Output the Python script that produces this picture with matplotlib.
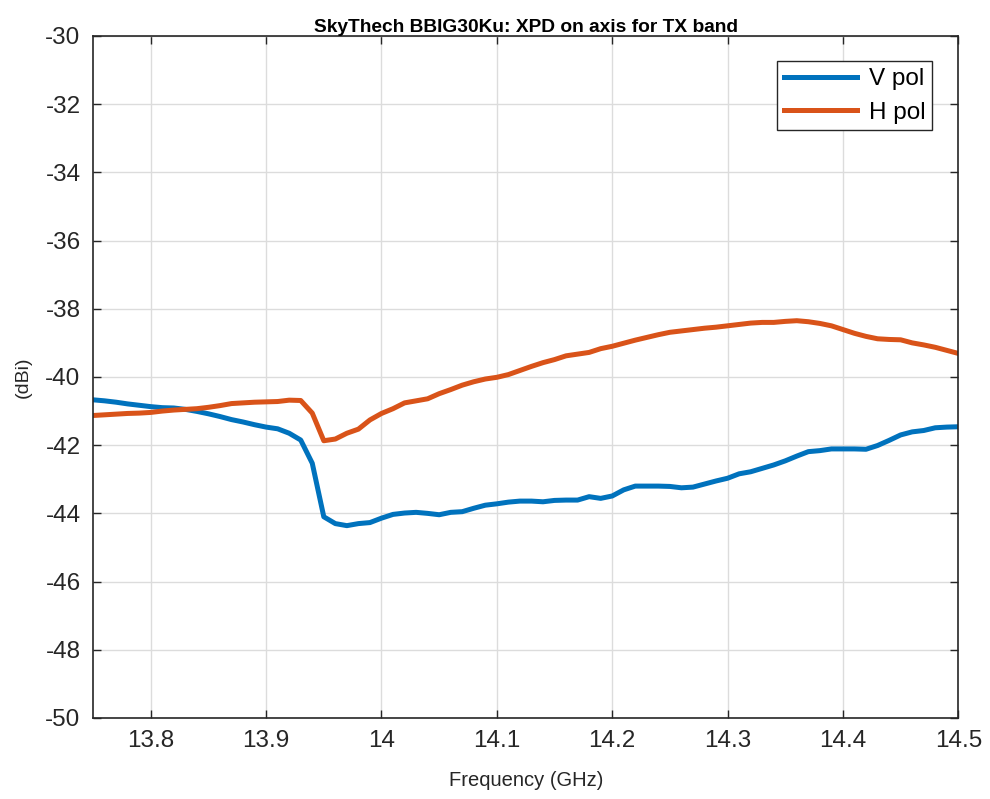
import numpy as np
import matplotlib as mpl
mpl.use("Agg")
import matplotlib.pyplot as plt

mpl.rcParams.update({"font.family": ["Liberation Sans", "DejaVu Sans"],
                     "axes.unicode_minus": False})

freq = np.round(np.arange(13.75, 14.5001, 0.01), 2)

v_pol = [-40.67, -40.70, -40.74, -40.79, -40.83, -40.87, -40.90, -40.91, -40.95, -41.01,
         -41.08, -41.16, -41.25, -41.32, -41.40, -41.47, -41.52, -41.65, -41.85, -42.53,
         -44.10, -44.30, -44.36, -44.30, -44.27, -44.14, -44.03, -43.99, -43.97, -44.00,
         -44.04, -43.97, -43.95, -43.85, -43.76, -43.72, -43.67, -43.64, -43.64, -43.66,
         -43.62, -43.61, -43.61, -43.51, -43.56, -43.49, -43.31, -43.20, -43.20, -43.20,
         -43.21, -43.25, -43.23, -43.14, -43.05, -42.97, -42.84, -42.78, -42.68, -42.58,
         -42.46, -42.32, -42.19, -42.16, -42.11, -42.11, -42.11, -42.12, -42.01, -41.86,
         -41.70, -41.61, -41.57, -41.49, -41.47, -41.46]

h_pol = [-41.13, -41.11, -41.09, -41.07, -41.06, -41.04, -41.00, -40.97, -40.95, -40.93,
         -40.89, -40.84, -40.78, -40.76, -40.74, -40.73, -40.72, -40.68, -40.69, -41.06,
         -41.87, -41.82, -41.65, -41.53, -41.26, -41.07, -40.93, -40.76, -40.70, -40.64,
         -40.49, -40.37, -40.24, -40.14, -40.06, -40.01, -39.93, -39.81, -39.69, -39.58,
         -39.49, -39.38, -39.33, -39.28, -39.17, -39.10, -39.01, -38.92, -38.84, -38.76,
         -38.69, -38.65, -38.61, -38.57, -38.54, -38.50, -38.46, -38.42, -38.40, -38.40,
         -38.37, -38.35, -38.38, -38.43, -38.50, -38.61, -38.72, -38.81, -38.88, -38.90,
         -38.91, -39.00, -39.06, -39.13, -39.22, -39.31]

xticks = [13.8, 13.9, 14.0, 14.1, 14.2, 14.3, 14.4, 14.5]
xticklabels = ["13.8", "13.9", "14", "14.1", "14.2", "14.3", "14.4", "14.5"]
yticks = list(range(-50, -29, 2))

fig = plt.figure(figsize=(9.9, 7.99), dpi=100)
ax = fig.add_axes([0.094, 0.1014, 0.874, 0.8536])

ax.plot(freq, v_pol, color="#0072BD", lw=3.6, label="V pol")
ax.plot(freq, h_pol, color="#D95319", lw=3.6, label="H pol")

ax.set_xlim(13.75, 14.5)
ax.set_ylim(-50, -30)
ax.set_xticks(xticks)
ax.set_xticklabels(xticklabels)
ax.set_yticks(yticks)
ax.tick_params(direction="in", top=True, right=True, labelsize=17.5,
               length=6, width=1, colors="#262626", pad=9)
ax.grid(True, color="#dcdcdc", lw=1)
ax.set_axisbelow(True)
for s in ax.spines.values():
    s.set_color("#262626"); s.set_linewidth(1.2)

ax.set_xlabel("Frequency (GHz)", fontsize=14.5, color="#262626", labelpad=13)
ax.set_ylabel("(dBi)", fontsize=14, color="#262626", labelpad=10)
ax.set_title("SkyThech BBIG30Ku: XPD on axis for TX band", fontsize=13.8,
             fontweight="bold", pad=3)

leg = ax.legend(loc="upper right", bbox_to_anchor=(0.97, 0.963), fontsize=17.5,
                fancybox=False, framealpha=1, edgecolor="#262626",
                handlelength=3.0, handletextpad=0.5, borderpad=0.28,
                labelspacing=0.48, borderaxespad=0)
leg.get_frame().set_linewidth(1)

fig.savefig("out.png", dpi=100)
